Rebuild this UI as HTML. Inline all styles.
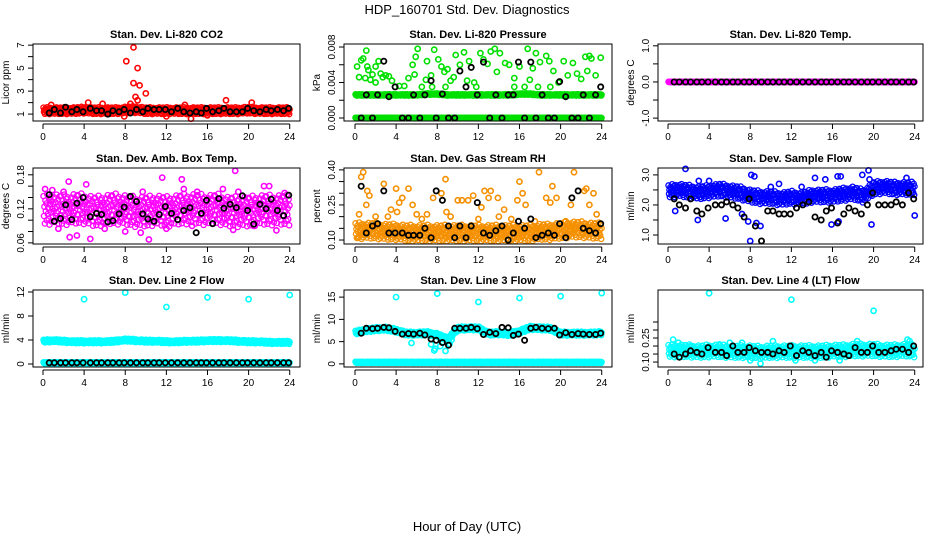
<!DOCTYPE html>
<html><head><meta charset="utf-8"><style>
html,body{margin:0;padding:0;background:#fff}
svg{display:block;font-family:"Liberation Sans",sans-serif}
</style></head><body>
<svg id="c" width="936" height="540" viewBox="0 0 936 540">
<text x="467" y="14" text-anchor="middle" font-size="13">HDP_160701  Std. Dev. Diagnostics</text>
<text x="467" y="531" text-anchor="middle" font-size="13">Hour of Day (UTC)</text>
</svg>
<script>
const hours=[0,4,8,12,16,20,24];
const blackX=[0.6,1.1,1.7,2.2,2.8,3.3,3.9,4.6,5.2,5.7,6.3,6.8,7.4,7.9,8.5,9.1,9.7,10.2,10.8,11.3,11.9,12.5,13.1,13.7,14.3,14.9,15.4,15.9,16.5,17.1,17.6,18.2,18.8,19.4,19.9,20.5,21.1,21.7,22.2,22.8,23.4,23.9];
const jitter=[0.9,-0.4,0.2,-0.9,0.6,-0.1,0.4,-0.7,1,-0.3,0.1,-0.6,0.7,-1,0.3,0.8,-0.2,-0.8,0.5,0,-0.55,0.35,-0.15,0.75,-0.85,0.05,0.45,-0.45,0.95,-0.25,0.15,-0.65,0.65,-0.95,0.25,0.85,-0.35];

const co2Band=[1.3,1.3,1.3,1.3,1.35,1.3,1.3,1.3,1.35,1.4,1.3,1.3,1.3,1.3,1.3,1.3,1.3,1.3,1.3,1.3,1.35,1.3,1.3,1.3,1.3];
const co2Out=[[8.8,6.8],[8.1,5.6],[9.2,5.0],[8.8,3.7],[9.4,3.5],[10.0,2.8],[9.0,2.5],[9.2,2.2],[17.8,2.2],[8.5,1.9],[14.4,0.6],[12.0,0.8],[7.9,0.8],[20.3,2.0],[5.8,1.9],[4.4,2.0],[0.8,1.8],[16.0,0.9],[13.8,1.8]];
const co2Black=[1.1,1.4,1.1,1.6,1.2,1.4,1.2,1.5,1.3,1.3,1.0,1.3,1.2,1.4,1.1,1.4,1.2,1.5,1.4,1.4,1.4,1.2,1.5,1.2,1.1,1.2,1.1,1.5,1.2,1.3,1.5,1.2,1.2,1.2,1.5,1.3,1.2,1.4,1.3,1.4,1.3,1.5];

const presBand0=[0,0,0,0,0,0,0,0,0,0,0,0,0,0,0,0,0,0,0,0,0,0,0,0,0];
const presBand1=[0.0026,0.0026,0.0026,0.0026,0.0026,0.0026,0.0026,0.0027,0.0027,0.0026,0.0026,0.0026,0.0026,0.0026,0.0026,0.0026,0.0027,0.0027,0.0026,0.0026,0.0026,0.0026,0.0026,0.0026,0.0026];
const presOut=[[0.2,0.0058],[0.4,0.0046],[0.6,0.0065],[0.8,0.0067],[1.1,0.0076],[1.2,0.0058],[1.3,0.0054],[1.0,0.0045],[1.5,0.0043],[1.7,0.0049],[2.0,0.0058],[2.3,0.0064],[2.5,0.005],[2.7,0.0046],[3.0,0.0048],[3.3,0.0047],[3.6,0.0042],[4.3,0.0036],[5.2,0.0045],[5.6,0.006],[5.9,0.0069],[6.1,0.0078],[5.8,0.0049],[6.9,0.0043],[7.0,0.0064],[7.4,0.0048],[7.7,0.0077],[8.1,0.0066],[8.4,0.0058],[8.7,0.0052],[9.0,0.0055],[9.3,0.0042],[9.6,0.0046],[9.8,0.0071],[10.2,0.006],[10.6,0.0074],[10.9,0.0042],[11.1,0.0064],[11.6,0.004],[12.2,0.0073],[12.5,0.0066],[12.9,0.0061],[13.2,0.0075],[13.6,0.0078],[13.8,0.0052],[14.1,0.0073],[14.6,0.0062],[15.0,0.006],[15.5,0.0045],[16.0,0.0058],[16.8,0.0078],[17.3,0.0056],[17.6,0.0073],[18.0,0.0063],[18.6,0.007],[18.9,0.0064],[19.3,0.0053],[19.8,0.004],[20.3,0.0064],[20.7,0.0048],[21.2,0.0062],[21.6,0.005],[22.0,0.0044],[22.4,0.0069],[22.8,0.007],[22.6,0.0053],[23.0,0.0067],[23.4,0.0048],[23.9,0.0068],[2.0,0.004],[4.8,0.0036],[11.8,0.0035],[17.0,0.0043],[19.0,0.0035],[6.5,0.0035],[7.5,0.0035],[15.5,0.0035],[16.5,0.0035],[17.8,0.0035],[8.8,0.0035]];
const presBlack=[0,0.0026,0,0.0026,0.0064,0.0024,0.0035,0,0,0.0026,0,0.0026,0.0042,0,0.0027,0,0,0.0053,0.0035,0.0057,0.0026,0.0063,0,0.0026,0,0.0026,0.0026,0.0063,0,0.0063,0,0.0026,0,0,0.0041,0.0024,0,0,0.0026,0,0.0026,0.0035];

const tempBand=[0,0,0,0,0,0,0,0,0,0,0,0,0,0,0,0,0,0,0,0,0,0,0,0,0];
const tempBlack=[0,0,0,0,0,0,0,0,0,0,0,0,0,0,0,0,0,0,0,0,0,0,0,0,0,0,0,0,0,0,0,0,0,0,0,0,0,0,0,0,0,0];

const boxBand=[0.118,0.12,0.118,0.12,0.12,0.115,0.118,0.12,0.118,0.115,0.115,0.118,0.115,0.118,0.12,0.12,0.118,0.12,0.115,0.115,0.115,0.118,0.118,0.118,0.118];
const boxOut=[[0.2,0.155],[0.9,0.153],[2.5,0.168],[4.2,0.163],[2.6,0.07],[3.3,0.073],[4.6,0.067],[9.5,0.078],[10.3,0.066],[11.6,0.175],[13.5,0.172],[13.7,0.155],[15.0,0.15],[17.5,0.155],[18.7,0.187],[19.0,0.15],[21.5,0.16],[22.0,0.16],[23.5,0.148],[8.0,0.08],[2.0,0.15],[6.0,0.085],[12.0,0.085],[14.5,0.09],[18.5,0.083],[20.5,0.09],[22.7,0.082],[9.7,0.15],[1.5,0.085]];
const boxBlack=[0.145,0.098,0.103,0.127,0.101,0.13,0.14,0.106,0.112,0.11,0.097,0.099,0.111,0.123,0.142,0.133,0.111,0.102,0.098,0.11,0.124,0.112,0.101,0.117,0.122,0.078,0.112,0.135,0.094,0.138,0.121,0.128,0.122,0.143,0.117,0.093,0.128,0.12,0.137,0.117,0.108,0.144];

const rhBand=[0.14,0.14,0.14,0.135,0.135,0.13,0.13,0.13,0.13,0.13,0.13,0.13,0.13,0.13,0.13,0.13,0.13,0.13,0.135,0.135,0.14,0.145,0.145,0.14,0.14];
const rhOut=[[0.3,0.11],[0.4,0.21],[0.6,0.37],[0.8,0.39],[1.2,0.31],[1.4,0.29],[1.1,0.25],[2.0,0.2],[2.8,0.34],[3.5,0.23],[4.0,0.32],[4.3,0.26],[4.6,0.28],[5.2,0.32],[5.6,0.25],[6.0,0.21],[7.0,0.21],[7.6,0.28],[8.4,0.3],[8.8,0.36],[9.3,0.2],[10.0,0.27],[10.4,0.27],[11.0,0.27],[11.5,0.29],[12.3,0.24],[12.6,0.31],[13.2,0.31],[13.0,0.28],[13.9,0.28],[14.5,0.23],[15.8,0.27],[16.0,0.35],[16.3,0.3],[16.6,0.25],[17.9,0.39],[18.6,0.28],[19.0,0.26],[19.2,0.33],[19.6,0.28],[21.3,0.39],[21.0,0.25],[22.3,0.31],[22.5,0.32],[22.8,0.25],[23.2,0.3],[23.5,0.21],[8.9,0.22],[4.1,0.22],[3.2,0.2],[14.0,0.2],[15.2,0.19],[20.5,0.18],[6.5,0.19],[12.0,0.19],[17.5,0.18]];
const rhBlack=[0.33,0.13,0.16,0.17,0.31,0.13,0.13,0.13,0.12,0.12,0.12,0.15,0.11,0.31,0.27,0.16,0.11,0.16,0.11,0.16,0.26,0.13,0.12,0.14,0.16,0.10,0.13,0.18,0.15,0.19,0.11,0.12,0.13,0.12,0.17,0.11,0.28,0.31,0.15,0.14,0.13,0.17];

const flowBand=[2.45,2.5,2.45,2.4,2.45,2.5,2.45,2.4,2.3,2.25,2.25,2.2,2.25,2.2,2.3,2.3,2.3,2.35,2.4,2.3,2.55,2.6,2.55,2.55,2.55];
const flowOut=[[1.7,3.2],[2.9,1.5],[0.7,1.8],[5.6,1.55],[8.1,3.0],[8.4,2.95],[8.0,0.8],[8.6,1.4],[7.8,1.45],[7.2,1.7],[9.0,1.3],[10.8,2.7],[14.3,2.9],[15.3,2.85],[15.9,1.35],[16.5,2.95],[16.8,2.95],[16.6,1.45],[18.9,3.0],[19.5,3.15],[19.6,2.85],[19.8,1.35],[23.2,2.9],[24,1.65],[4,2.8],[3,2.8],[10,2.6],[13,2.6]];
const flowBlack=[2.2,2.0,1.9,2.2,1.8,1.7,1.9,2.0,2.0,2.1,2.0,1.9,1.6,2.2,1.3,0.8,1.8,1.8,1.7,1.7,1.7,1.9,2.0,2.1,1.6,1.5,1.8,1.9,1.4,1.7,1.9,1.8,1.7,2.0,2.4,2.0,2.0,2.0,2.1,2.0,2.4,2.2];

const l2BandHi=[3.8,3.9,3.8,3.7,3.7,3.7,3.7,3.8,4.0,3.9,3.8,3.8,3.7,3.7,3.8,3.8,3.9,3.9,3.9,3.8,3.7,3.7,3.6,3.6,3.6];
const l2BandLo=[0.2,0.2,0.2,0.2,0.2,0.2,0.2,0.2,0.2,0.2,0.2,0.2,0.2,0.2,0.2,0.2,0.2,0.2,0.2,0.2,0.2,0.2,0.2,0.2,0.2];
const l2Out=[[4,10.8],[8,11.9],[12,9.5],[16,11.1],[20,10.8],[24,11.5]];
const l2Black=[0.2,0.2,0.2,0.2,0.2,0.2,0.2,0.2,0.2,0.2,0.2,0.2,0.2,0.2,0.2,0.2,0.2,0.2,0.2,0.2,0.2,0.2,0.2,0.2,0.2,0.2,0.2,0.2,0.2,0.2,0.2,0.2,0.2,0.2,0.2,0.2,0.2,0.2,0.2,0.2,0.2,0.2];

const l3BandHi=[7,7.5,7.8,7.9,7.5,6.8,6.8,6.9,6.5,5.5,7.9,8,8,6.8,6.9,6.7,7.2,8.1,8,7.9,6.8,6.8,6.8,6.8,6.9];
const l3BandLo=[0.35,0.35,0.35,0.35,0.35,0.35,0.35,0.35,0.35,0.35,0.35,0.35,0.35,0.35,0.35,0.35,0.35,0.35,0.35,0.35,0.35,0.35,0.35,0.35,0.35];
const l3Out=[[4,15],[8,15.8],[12,13.9],[16,14.8],[20,15.2],[24,15.9],[5.5,4.7],[7.4,4.4],[7.8,3.4],[7.7,3.0],[8.3,4.0],[8.8,2.9],[9.4,5.4],[9.2,4.5]];
const l3Black=[6.9,8,7.9,8,8.2,8.1,7.3,6.7,6.8,6.7,6.9,6.5,5.6,5.3,4.8,4.2,8.0,8.0,8.0,8.2,7.9,6.6,7.1,6.8,8.2,8.1,6.4,6.7,5.3,8.0,8.2,8.0,7.9,8.0,6.5,7.0,6.6,6.8,6.7,6.6,6.6,6.9];

const l4Band=[0.17,0.17,0.17,0.165,0.17,0.17,0.165,0.165,0.165,0.16,0.165,0.165,0.165,0.165,0.165,0.165,0.17,0.17,0.175,0.175,0.175,0.17,0.17,0.175,0.17];
const l4Out=[[4,0.53],[12,0.49],[20,0.42],[0.5,0.24],[1,0.22],[2.2,0.2],[5,0.21],[6,0.22],[7.2,0.22],[8,0.11],[9,0.09],[10.2,0.23],[12.4,0.11],[14.3,0.11],[16.7,0.11],[18.4,0.23],[23.3,0.24],[23.5,0.23],[20,0.21]];
const l4Black=[0.15,0.13,0.15,0.17,0.16,0.15,0.19,0.16,0.16,0.14,0.2,0.16,0.16,0.19,0.17,0.16,0.16,0.15,0.17,0.16,0.2,0.14,0.17,0.16,0.14,0.16,0.13,0.17,0.16,0.15,0.14,0.19,0.16,0.16,0.2,0.16,0.16,0.17,0.18,0.18,0.16,0.2];

const NS='http://www.w3.org/2000/svg';
const svg=document.getElementById('c');
function mk(tag,at,parent){const e=document.createElementNS(NS,tag);for(const k in at)e.setAttribute(k,at[k]);(parent||svg).appendChild(e);return e;}

const cols=[{l:33,r:300,x0:43},{l:344,r:612,x0:355},{l:658,r:923,x0:668}];
const rows=[{t:44,b:121},{t:168,b:244},{t:290,b:367}];

const panels=[
 {slug:'co2',title:'Stan. Dev. Li-820 CO2',ylab:'Licor ppm',c:0,r:0,dom:[0.4,7.1],ticks:[1,2,3,4,5,6,7],labels:[1,3,5,7],dec:0,color:'#ff0000',bands:[[co2Band,0.3]],out:co2Out,black:co2Black},
 {slug:'pressure',title:'Stan. Dev. Li-820 Pressure',ylab:'kPa',c:1,r:0,dom:[-0.00034,0.00834],ticks:[0,0.002,0.004,0.006,0.008],labels:[0,0.004,0.008],dec:3,color:'#00e000',bands:[[presBand0,0.00003],[presBand1,0.00008]],out:presOut,black:presBlack},
 {slug:'temp',title:'Stan. Dev. Li-820 Temp.',ylab:'degrees C',c:2,r:0,dom:[-1.08,1.05],ticks:[-1,-0.5,0,0.5,1],labels:[-1,0,1],dec:1,color:'#ff00ff',bands:[[tempBand,0.005]],out:[],black:tempBlack},
 {slug:'box-temp',title:'Stan. Dev. Amb. Box Temp.',ylab:'degrees C',c:0,r:1,dom:[0.058,0.192],ticks:[0.06,0.08,0.10,0.12,0.14,0.16,0.18],labels:[0.06,0.12,0.18],dec:2,color:'#ff00ff',bands:[[boxBand,0.027]],out:boxOut,black:boxBlack},
 {slug:'rh',title:'Stan. Dev. Gas Stream RH',ylab:'percent',c:1,r:1,dom:[0.083,0.408],ticks:[0.10,0.15,0.20,0.25,0.30,0.35,0.40],labels:[0.10,0.25,0.40],dec:2,color:'#f59000',bands:[[rhBand,0.035]],out:rhOut,black:rhBlack},
 {slug:'sample-flow',title:'Stan. Dev. Sample Flow',ylab:'ml/min',c:2,r:1,dom:[0.7,3.23],ticks:[1,1.5,2,2.5,3],labels:[1,2,3],dec:1,color:'#0000ff',bands:[[flowBand,0.22]],out:flowOut,black:flowBlack},
 {slug:'line2-flow',title:'Stan. Dev. Line 2 Flow',ylab:'ml/min',c:0,r:2,dom:[-0.5,12.33],ticks:[0,4,8,12],labels:[0,4,8,12],dec:0,color:'#00ffff',bands:[[l2BandHi,0.25],[l2BandLo,0.12]],out:l2Out,black:l2Black},
 {slug:'line3-flow',title:'Stan. Dev. Line 3 Flow',ylab:'ml/min',c:1,r:2,dom:[-0.7,16.6],ticks:[0,5,10,15],labels:[0,5,10,15],dec:0,color:'#00ffff',bands:[[l3BandHi,0.45],[l3BandLo,0.15]],out:l3Out,black:l3Black},
 {slug:'line4-flow',title:'Stan. Dev. Line 4 (LT) Flow',ylab:'ml/min',c:2,r:2,dom:[0.069,0.55],ticks:[0.10,0.15,0.20,0.25,0.30,0.35],labels:[0.10,0.25],dec:2,color:'#00ffff',bands:[[l4Band,0.04]],out:l4Out,black:l4Black}
];

function circ(g,x,y,color,sw){return mk('circle',{cx:x.toFixed(1),cy:y.toFixed(1),r:2.6,fill:'none',stroke:color,'stroke-width':sw},g);}

panels.forEach(p=>{
 const C=cols[p.c],R=rows[p.r];
 const xs=h=>C.x0+h*10.28;
 const ys=v=>R.b-(v-p.dom[0])/(p.dom[1]-p.dom[0])*(R.b-R.t);
 const g=mk('g',{});
 
 
 const t=mk('text',{x:(C.l+C.r)/2,y:R.t-6,'text-anchor':'middle','font-size':11,'font-weight':'bold'},g);
 t.textContent=p.title;
 
 
 const pts=mk('g',{},g);
 
 
 p.bands.forEach(([band,half])=>{
   let i=0;
   for(let h=0.05;h<=24;h+=0.045,i++){
     const k=Math.min(23,Math.floor(h)),f=h-k;
     const v=band[k]*(1-f)+band[k+1]*f+half*jitter[i%jitter.length];
     const e=circ(pts,xs(h),ys(v),p.color,1.3);
     
     
   }
 });
 p.out.forEach(([h,v])=>{
   const e=circ(pts,xs(h),ys(v),p.color,1.6);
   
   
 });
 const bg=mk('g',{},g);
 
 
 p.black.forEach((v,i)=>{
   const e=circ(bg,xs(blackX[i]),ys(v),'#000',1.8);
   
   
 });
 const box=mk('rect',{x:C.l,y:R.t,width:C.r-C.l,height:R.b-R.t,fill:'none',stroke:'#000','stroke-width':1},g);
 
 
 const ya=mk('g',{},g);
 
 
 mk('line',{x1:C.l,x2:C.l,y1:ys(p.ticks[0]),y2:ys(p.ticks[p.ticks.length-1]),stroke:'#000'},ya);
 p.ticks.forEach(v=>mk('line',{x1:C.l-5,x2:C.l,y1:ys(v),y2:ys(v),stroke:'#000'},ya));
 p.labels.forEach(v=>{
   const y=ys(v),x=C.l-9;
   const e=mk('text',{x:x,y:y,'text-anchor':'middle','font-size':10,transform:`rotate(-90 ${x} ${y})`},ya);
   e.textContent=v.toFixed(p.dec);
   
   
 });
 const yl=mk('text',{x:C.l-24,y:(R.t+R.b)/2,'text-anchor':'middle','font-size':10,transform:`rotate(-90 ${C.l-24} ${(R.t+R.b)/2})`},g);
 yl.textContent=p.ylab;
 
 
 const xa=mk('g',{},g);
 
 
 const ay=R.b+3;
 mk('line',{x1:xs(0),x2:xs(24),y1:ay,y2:ay,stroke:'#000'},xa);
 hours.forEach(h=>{
   mk('line',{x1:xs(h),x2:xs(h),y1:ay,y2:ay+5,stroke:'#000'},xa);
   const e=mk('text',{x:xs(h),y:ay+16,'text-anchor':'middle','font-size':10},xa);
   e.textContent=h;
   
   
 });
});
</script>
</body></html>
